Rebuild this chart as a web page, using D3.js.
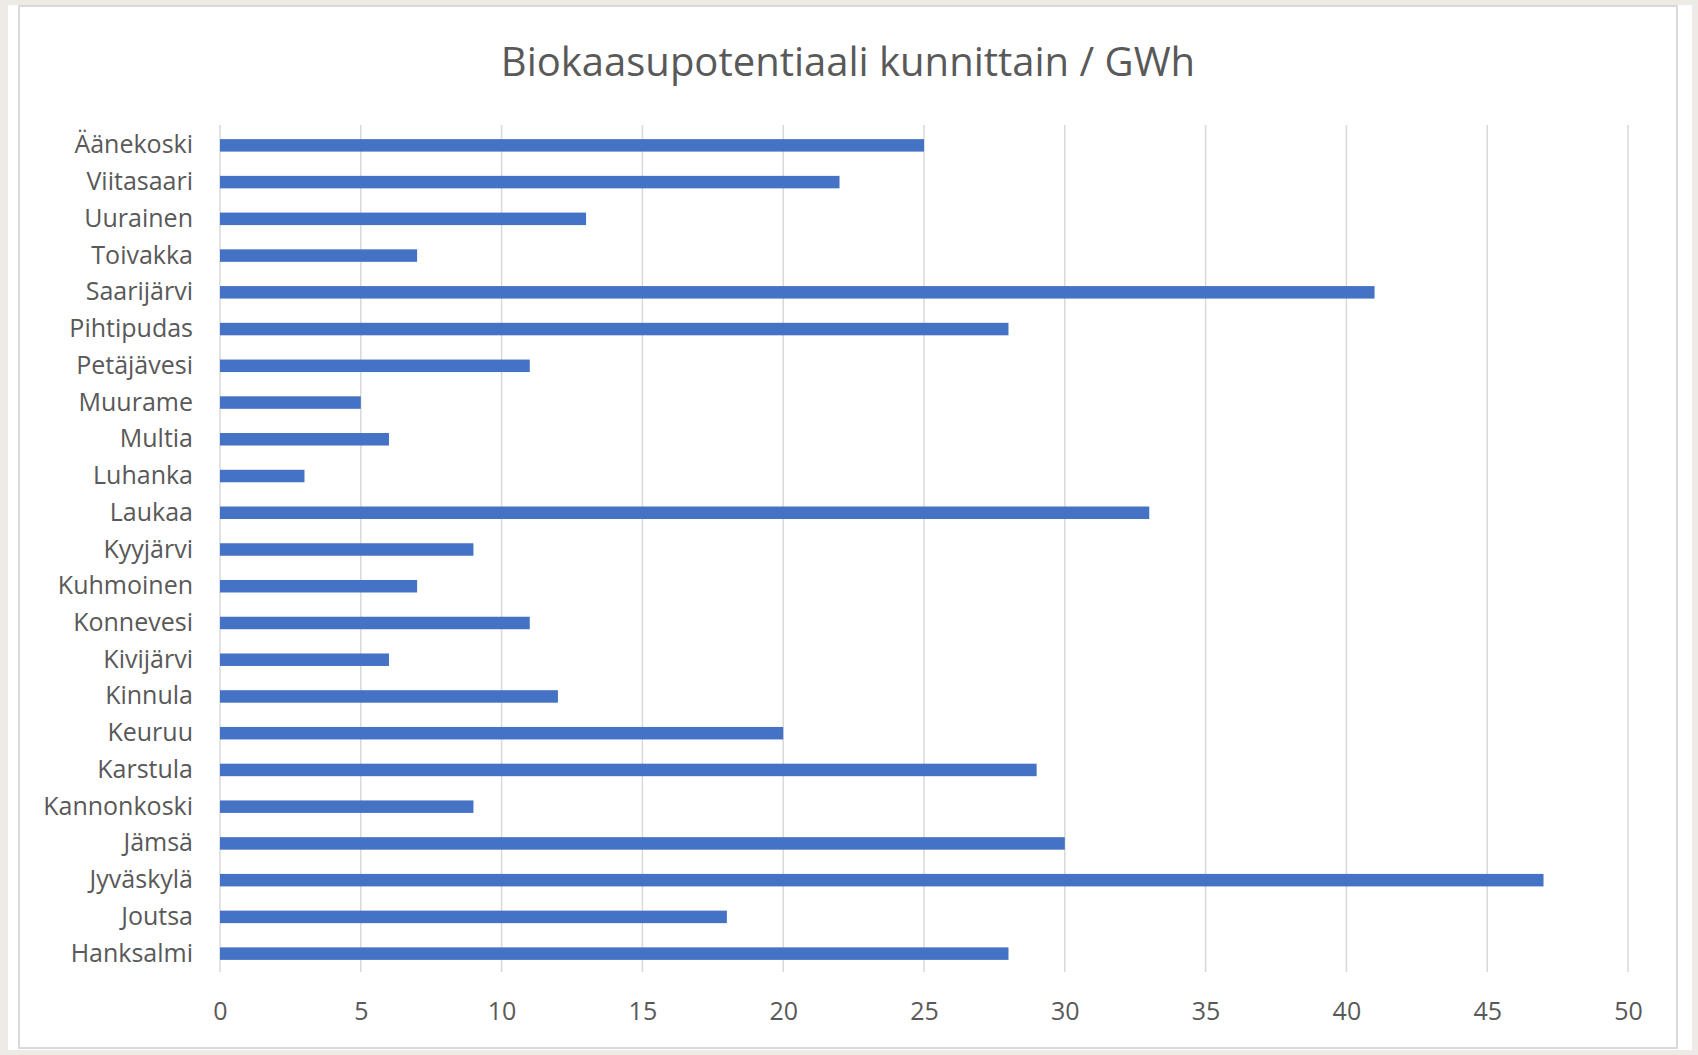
<!DOCTYPE html>
<html>
<head>
<meta charset="utf-8">
<script src="https://cdn.jsdelivr.net/npm/d3@7"></script>
<style>
  body { margin: 0; background: #eeebe6; }
  text { font-family: "Open Sans", "Noto Sans", sans-serif; fill: #595959; }
</style>
</head>
<body>
<div id="chart"></div>
<script>
// kunnat ylhäältä alas, kuten kuvassa
var categories = ["Äänekoski", "Viitasaari", "Uurainen", "Toivakka", "Saarijärvi", "Pihtipudas",
  "Petäjävesi", "Muurame", "Multia", "Luhanka", "Laukaa", "Kyyjärvi", "Kuhmoinen", "Konnevesi",
  "Kivijärvi", "Kinnula", "Keuruu", "Karstula", "Kannonkoski", "Jämsä", "Jyväskylä", "Joutsa", "Hanksalmi"];
var values = [25, 22, 13, 7, 41, 28, 11, 5, 6, 3, 33, 9, 7, 11, 6, 12, 20, 29, 9, 30, 47, 18, 28];
var xTicks = [0, 5, 10, 15, 20, 25, 30, 35, 40, 45, 50];
var title = "Biokaasupotentiaali kunnittain / GWh";

var svgWidth = 1698;
var svgHeight = 1055;

var margin = {
  top: 127,
  right: 70,
  bottom: 83,
  left: 220
};

var width = svgWidth - margin.left - margin.right;
var height = svgHeight - margin.top - margin.bottom;

var svg = d3.select("#chart")
  .append("svg")
  .attr("width", svgWidth)
  .attr("height", svgHeight)
  .style("display", "block");

// white sheet + chart border
svg.append("rect")
  .attr("x", 8)
  .attr("y", 5)
  .attr("width", 1684)
  .attr("height", 1045)
  .attr("fill", "#ffffff");

svg.append("rect")
  .attr("x", 19)
  .attr("y", 6)
  .attr("width", 1658)
  .attr("height", 1042)
  .attr("fill", "#ffffff")
  .attr("stroke", "#d9d9d9")
  .attr("stroke-width", 2);

var chartGroup = svg.append("g")
  .attr("transform", `translate(${margin.left}, ${margin.top})`);

var xLinearScale = d3.scaleLinear()
  .domain([0, 50])
  .range([0, width]);

var yBandScale = d3.scaleBand()
  .domain(categories)
  .range([0, height])
  .paddingInner(0.66)
  .paddingOuter(0.33);

// gridlines
chartGroup.append("g")
  .selectAll("line")
  .data(xTicks)
  .enter()
  .append("line")
  .attr("x1", d => xLinearScale(d))
  .attr("x2", d => xLinearScale(d))
  .attr("y1", -2)
  .attr("y2", height)
  .attr("stroke", "#d9d9d9")
  .attr("stroke-width", 1.5);

// bars
chartGroup.selectAll(".bar")
  .data(values)
  .enter()
  .append("rect")
  .attr("class", "bar")
  .attr("x", xLinearScale(0))
  .attr("y", (d, i) => yBandScale(categories[i]))
  .attr("width", d => xLinearScale(d) - xLinearScale(0))
  .attr("height", yBandScale.bandwidth())
  .attr("fill", "#4472c4");

// x axis labels only, no domain/ticks
var bottomAxis = d3.axisBottom(xLinearScale)
  .tickValues(xTicks)
  .tickSize(0)
  .tickPadding(30);

var xAxis = chartGroup.append("g")
  .attr("transform", `translate(0, ${height})`)
  .call(bottomAxis);
xAxis.select(".domain").remove();
xAxis.selectAll("text")
  .attr("font-size", "25px")
  .attr("fill", "#595959");

var leftAxis = d3.axisLeft(yBandScale)
  .tickSize(0)
  .tickPadding(27);

var yAxis = chartGroup.append("g")
  .call(leftAxis);
yAxis.select(".domain").remove();
yAxis.selectAll("text")
  .attr("font-size", "25px")
  .attr("fill", "#595959");
yAxis.attr("font-family", null);
xAxis.attr("font-family", null);

// title
svg.append("text")
  .attr("x", 848)
  .attr("y", 76)
  .attr("text-anchor", "middle")
  .attr("font-size", "40px")
  .text(title);
</script>
</body>
</html>
